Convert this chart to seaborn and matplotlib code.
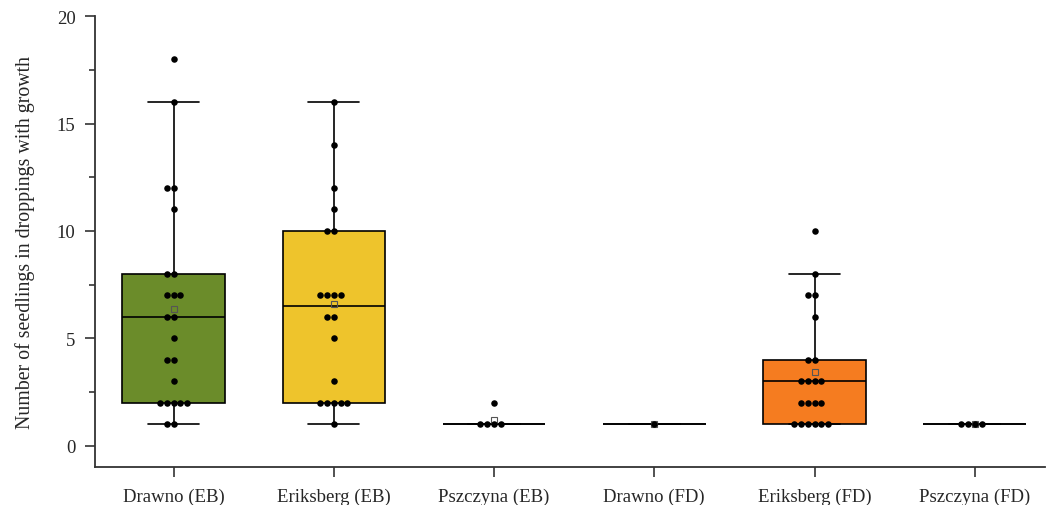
import numpy as np
import pandas as pd
import matplotlib
matplotlib.use("Agg")
import matplotlib.pyplot as plt
from matplotlib.ticker import MultipleLocator
import seaborn as sns

# ----------------------------
# Data (counts of seedlings per dropping)
# ----------------------------
groups = ["Drawno (EB)", "Eriksberg (EB)", "Pszczyna (EB)",
          "Drawno (FD)", "Eriksberg (FD)", "Pszczyna (FD)"]

drawno_eb = [1, 1, 2, 2, 2, 2, 2, 3, 4, 4, 5, 6, 6, 7, 7, 7, 8, 8, 11, 12, 12, 16, 18]
eriksberg_eb = [1, 2, 2, 2, 2, 2, 3, 5, 6, 6, 7, 7, 7, 7, 10, 10, 11, 12, 14, 16]
pszczyna_eb = [1, 1, 1, 1, 2]
drawno_fd = [1]
eriksberg_fd = [1, 1, 1, 1, 1, 1, 2, 2, 2, 2, 3, 3, 3, 3, 4, 4, 6, 7, 7, 8, 10]
pszczyna_fd = [1, 1, 1, 1]

box_colors = ["#6b8c2a", "#eec42c", "#ffffff", "#ffffff", "#f57c20", "#ffffff"]

values = [drawno_eb, eriksberg_eb, pszczyna_eb, drawno_fd, eriksberg_fd, pszczyna_fd]
df = pd.DataFrame({
    "group": np.repeat(groups, [len(v) for v in values]),
    "count": np.concatenate(values),
})

# ----------------------------
# Plot
# ----------------------------
sns.set_style("ticks")
plt.rcParams["font.family"] = ["Liberation Serif", "DejaVu Serif"]

fig = plt.figure(figsize=(10.5, 5.06), dpi=100)
ax = fig.add_axes([0.0905, 0.075, 0.905, 0.891])

line_kw = dict(color="black", linewidth=1.2)
sns.boxplot(
    data=df, x="group", y="count", order=groups, hue="group",
    palette=dict(zip(groups, box_colors)), legend=False, saturation=1,
    width=0.64, whis=1.5, showfliers=False, showmeans=True,
    meanprops=dict(marker="s", markerfacecolor="none",
                   markeredgecolor="#555555", markersize=4.5,
                   markeredgewidth=0.8),
    boxprops=dict(edgecolor="black", linewidth=1.2),
    whiskerprops=line_kw, capprops=line_kw, medianprops=line_kw,
    ax=ax,
)

sns.swarmplot(data=df, x="group", y="count", order=groups,
              color="black", size=4.7, ax=ax)

ax.set_ylim(-1, 20)
ax.set_xlim(-0.49, 5.44)
ax.yaxis.set_major_locator(MultipleLocator(5))
ax.yaxis.set_minor_locator(MultipleLocator(2.5))
ax.tick_params(axis="both", which="major", direction="out", length=7,
               width=1.2, labelsize=13.5, color="#333333")
ax.tick_params(axis="y", which="major", pad=7)
ax.tick_params(axis="x", which="major", pad=8)
ax.tick_params(axis="y", which="minor", direction="out", length=4,
               width=1.2, color="#333333")
ax.set_xlabel("")
ax.set_ylabel("Number of seedlings in droppings with growth", fontsize=14.3,
              labelpad=16)
for side in ["left", "bottom"]:
    ax.spines[side].set_linewidth(1.3)
    ax.spines[side].set_color("#333333")
sns.despine(ax=ax)

plt.savefig("out.png", dpi=100)
